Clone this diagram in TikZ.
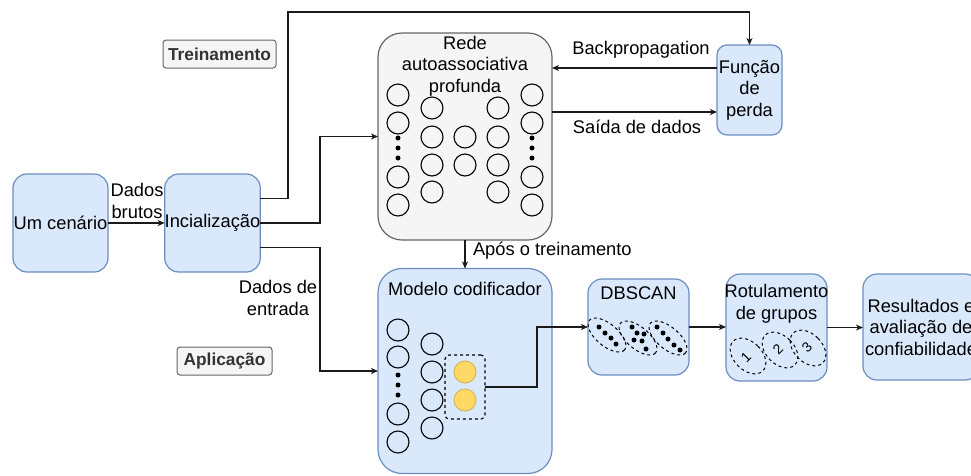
\documentclass[tikz,border=0pt]{standalone}
\usepackage{fontspec}
\setmainfont{Liberation Sans}
\usetikzlibrary{arrows.meta}
\definecolor{bfill}{HTML}{DAE8FC}
\definecolor{bdraw}{HTML}{6C8EBF}
\definecolor{gfill}{HTML}{F5F5F5}
\definecolor{gdraw}{HTML}{666666}
\definecolor{yfill}{HTML}{FFD966}
\definecolor{ydraw}{HTML}{D6B656}
\definecolor{tagtext}{HTML}{333333}
\definecolor{linec}{HTML}{1A1A1A}
\begin{document}
\begin{tikzpicture}[x=1pt,y=-1pt,
 every node/.style={font=\fontsize{18.3}{21.5}\selectfont, inner sep=0pt, outer sep=0pt},
 bluebox/.style={draw=bdraw, fill=bfill, line width=1.2pt, rounded corners=14pt, align=center},
 graybox/.style={draw=gdraw, fill=gfill, line width=1.2pt, rounded corners=24pt},
 tagbox/.style={draw=gdraw, fill=gfill, line width=1pt, rounded corners=3pt, font=\fontsize{17.3}{20}\selectfont\bfseries, text=tagtext},
 neuron/.style={circle, draw=black, line width=1.1pt, minimum size=22pt},
 ynode/.style={circle, draw=ydraw, fill=yfill, line width=1pt, minimum size=22pt},
 dotn/.style={circle, fill=black, minimum size=5pt},
 conn/.style={line width=1.2pt, draw=linec},
 arr/.style={conn, -{Stealth[length=7pt,width=6pt,inset=2pt]}},
 lbl/.style={align=center},
 clus/.style={draw=black, dashed, line width=1pt},
]
\useasboundingbox (0,0) rectangle (971,475);

% main boxes
\node[bluebox, minimum width=95pt, minimum height=98pt] (cen) at (60.5,223) {Um cenário};
\node[bluebox, minimum width=95pt, minimum height=98pt] (ini) at (212.5,223) {Incialização};
\node[graybox, minimum width=174pt, minimum height=207pt] (rede) at (465,136.5) {};
\node[bluebox, minimum width=65pt, minimum height=90pt, rounded corners=10pt] (func) at (749.5,90) {Função\\de\\perda};
\node[bluebox, minimum width=174pt, minimum height=205pt, rounded corners=24pt] (mod) at (465,371) {};
\node[bluebox, minimum width=101pt, minimum height=96pt] (db) at (638.5,327) {};
\node[bluebox, minimum width=101pt, minimum height=107pt] (rot) at (776.5,327.5) {};
\node[bluebox, minimum width=116pt, minimum height=106pt] (res) at (921,327) {Resultados e\\avaliação de\\confiabilidade};

% tags
\node[tagbox, minimum width=113pt, minimum height=28pt] (trein) at (219.5,54) {Treinamento};
\node[tagbox, minimum width=95pt, minimum height=28pt] (apl) at (224.5,361) {Aplicação};

% titles inside boxes
\node[lbl] (redet) at (465,66) {Rede\\autoassociativa\\profunda};
\node[lbl] (modt) at (465,289) {Modelo codificador};
\node[lbl] (dbt) at (638.5,293) {DBSCAN};
\node[lbl] (rott) at (776.5,304) {Rotulamento\\de grupos};

% Rede neurons
\foreach \y [count=\i] in {95,123,177,205} {\node[neuron] (ra\i) at (398,\y) {};}
\foreach \y [count=\i] in {138,148,158} {\node[dotn] (rad\i) at (398,\y) {};}
\foreach \y [count=\i] in {108,137,165,192} {\node[neuron] (rb\i) at (432,\y) {};}
\foreach \y [count=\i] in {137,165} {\node[neuron] (rc\i) at (465,\y) {};}
\foreach \y [count=\i] in {108,137,165,192} {\node[neuron] (rd\i) at (498,\y) {};}
\foreach \y [count=\i] in {95,123,177,205} {\node[neuron] (re\i) at (532,\y) {};}
\foreach \y [count=\i] in {138,148,158} {\node[dotn] (red\i) at (532,\y) {};}

% Modelo neurons
\foreach \y [count=\i] in {330,357,414,442} {\node[neuron] (ma\i) at (398,\y) {};}
\foreach \y [count=\i] in {375,385,395} {\node[dotn] (mad\i) at (398,\y) {};}
\foreach \y [count=\i] in {344,372,400,428} {\node[neuron] (mb\i) at (432,\y) {};}
\node[draw=black, dashed, line width=1.1pt, rounded corners=4pt, minimum width=40pt, minimum height=64pt] (bn) at (465,387) {};
\node[ynode] (my1) at (465,372) {};
\node[ynode] (my2) at (465,400) {};

% DBSCAN clusters
\draw[clus, rotate around={-40:(607,335)}] (607,335) ellipse [x radius=23, y radius=11];
\draw[clus, rotate around={-40:(638,338)}] (638,338) ellipse [x radius=23, y radius=11];
\draw[clus, rotate around={-40:(668,338)}] (668,338) ellipse [x radius=23, y radius=11];
\foreach \p in {(599,327),(605,333),(611,338),(616,344),
                (632,327),(637,333),(644,334),(634,340),(642,341),(646,349),
                (657,327),(663,333),(668,339),(674,345),(680,350)}
  {\fill \p circle (2.5);}

% Rotulamento clusters
\draw[clus, rotate around={45:(748,356)}] (748,356) ellipse [x radius=14, y radius=21];
\draw[clus, rotate around={45:(780,350)}] (780,350) ellipse [x radius=14, y radius=21];
\draw[clus, rotate around={45:(808,348)}] (808,348) ellipse [x radius=14, y radius=21];
\node[font=\fontsize{14}{16}\selectfont, rotate=45] (n1) at (746,357) {1};
\node[font=\fontsize{14}{16}\selectfont, rotate=45] (n2) at (778,349) {2};
\node[font=\fontsize{14}{16}\selectfont, rotate=45] (n3) at (807,347) {3};

% connectors
\draw[arr] (cen.east) -- (ini.west);
\node[lbl] (dbl) at (137,201) {Dados\\brutos};

\draw[arr] ([yshift=24.5pt]ini.east) -| (288,12) -| (func.north);
\draw[arr] (ini.east) -- (320,223) |- (rede.west);
\draw[arr] ([yshift=-24.5pt]ini.east) -- (320,247.5) |- (mod.west);
\node[lbl] (del) at (278,298) {Dados de\\entrada};

\path ([yshift=22pt]func.west) coordinate (f1);
\path ([yshift=-22pt]func.west) coordinate (f2);
\draw[arr] (f1) -- (f1 -| rede.east);
\draw[arr] (f2 -| rede.east) -- (f2);
\node (bpl) at (641,50) {Backpropagation};
\node (sdl) at (637,127) {Saída de dados};

\draw[arr] (rede.south) -- (mod.north);
\node[anchor=west] (apt) at (473,251) {Após o treinamento};

\draw[arr] (bn.east) -- (537,387) |- (db.west);
\draw[arr] (db.east) -- (db.east -| rot.west);
\draw[arr] (rot.east) -- (rot.east -| res.west);
\end{tikzpicture}
\end{document}
